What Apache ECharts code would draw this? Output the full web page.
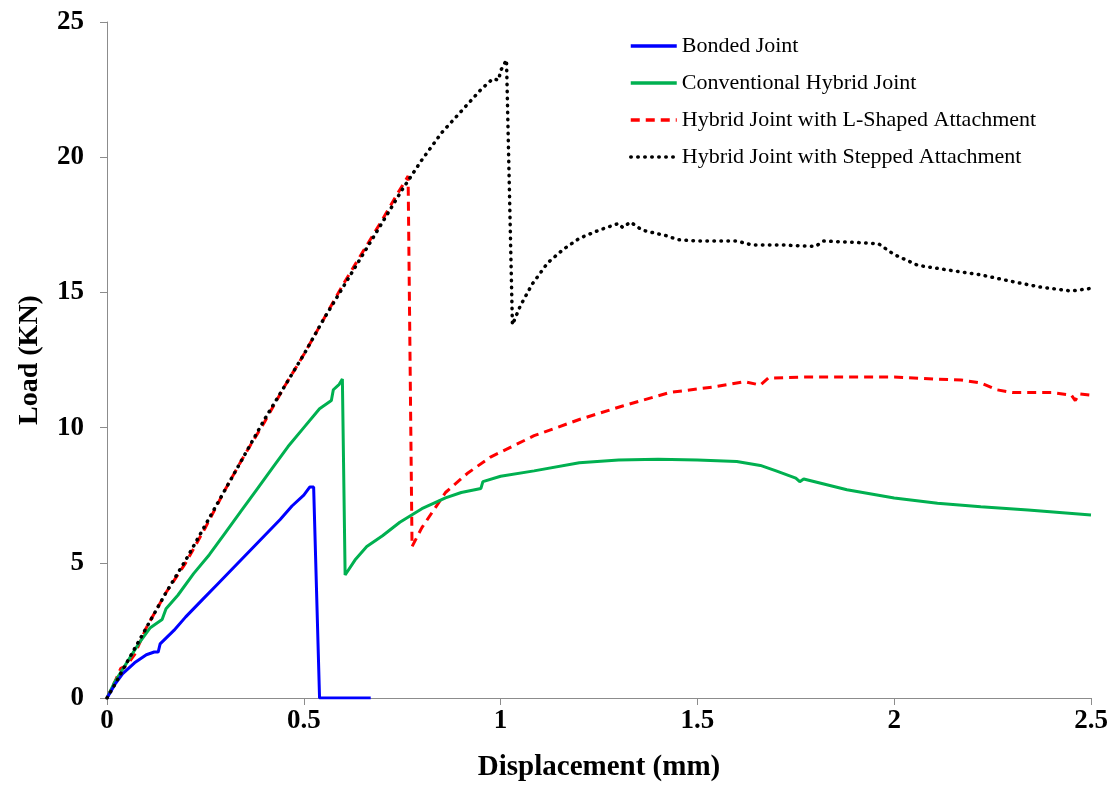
<!DOCTYPE html>
<html>
<head>
<meta charset="utf-8">
<script src="https://cdn.jsdelivr.net/npm/echarts@6/dist/echarts.min.js"></script>
<style>
  html, body { margin: 0; padding: 0; background: #fff; }
  #chart { width: 1116px; height: 805px; }
</style>
</head>
<body>
<div id="chart"></div>
<script>
// series names
const seriesNames = [
  "Bonded Joint",
  "Conventional Hybrid Joint",
  "Hybrid Joint with L-Shaped Attachment",
  "Hybrid Joint with Stepped Attachment"
];

// [displacement (mm), load (KN)]
const bonded = [
  [0, 0], [0.02, 0.5], [0.04, 0.9], [0.07, 1.3], [0.1, 1.6], [0.12, 1.7], [0.13, 1.7],
  [0.135, 2.0], [0.17, 2.5], [0.2, 3.0], [0.24, 3.6], [0.28, 4.2], [0.32, 4.8],
  [0.36, 5.4], [0.4, 6.0], [0.44, 6.6], [0.47, 7.1], [0.5, 7.5], [0.515, 7.8],
  [0.525, 7.8], [0.54, 0], [0.67, 0]
];

const conventional = [
  [0, 0], [0.02, 0.6], [0.05, 1.3], [0.08, 2.0], [0.11, 2.6], [0.14, 2.9], [0.15, 3.3],
  [0.18, 3.8], [0.22, 4.6], [0.26, 5.3], [0.3, 6.1], [0.34, 6.9], [0.38, 7.7],
  [0.42, 8.5], [0.46, 9.3], [0.5, 10.0], [0.54, 10.7], [0.56, 10.9], [0.57, 11.0],
  [0.575, 11.4], [0.59, 11.6], [0.598, 11.8], [0.605, 4.55], [0.63, 5.1], [0.66, 5.6],
  [0.7, 6.0], [0.744, 6.5], [0.8, 7.0], [0.86, 7.4], [0.9, 7.6], [0.95, 7.75],
  [0.955, 8.0], [1.0, 8.2], [1.085, 8.4], [1.2, 8.7], [1.3, 8.8], [1.4, 8.83],
  [1.5, 8.8], [1.6, 8.75], [1.66, 8.6], [1.7, 8.4], [1.75, 8.13], [1.76, 8.0],
  [1.77, 8.1], [1.88, 7.7], [2.0, 7.4], [2.11, 7.2], [2.22, 7.07], [2.34, 6.95],
  [2.5, 6.77]
];

const lShaped = [
  [0, 0], [0.02, 0.6], [0.035, 1.1], [0.05, 1.2], [0.07, 1.6], [0.1, 2.6], [0.15, 3.9],
  [0.2, 5.0], [0.25, 6.3], [0.3, 7.7], [0.35, 9.0], [0.4, 10.2], [0.45, 11.5],
  [0.5, 12.7], [0.55, 14.0], [0.6, 15.3], [0.65, 16.5], [0.7, 17.7], [0.74, 18.7],
  [0.765, 19.3], [0.775, 5.6], [0.8, 6.3], [0.86, 7.6], [0.915, 8.3], [0.973, 8.9],
  [1.085, 9.7], [1.2, 10.3], [1.31, 10.8], [1.43, 11.3], [1.54, 11.5], [1.62, 11.7],
  [1.66, 11.57], [1.68, 11.83], [1.77, 11.87], [2.0, 11.87], [2.1, 11.8], [2.17, 11.76],
  [2.22, 11.65], [2.26, 11.4], [2.3, 11.3], [2.4, 11.3], [2.45, 11.2], [2.46, 11.0],
  [2.47, 11.25], [2.5, 11.2]
];

const stepped = [
  [0, 0], [0.02, 0.5], [0.05, 1.3], [0.1, 2.6], [0.15, 3.9], [0.2, 5.1], [0.25, 6.4],
  [0.3, 7.7], [0.35, 9.0], [0.4, 10.3], [0.45, 11.5], [0.5, 12.7], [0.55, 14.0],
  [0.6, 15.2], [0.65, 16.4], [0.7, 17.6], [0.75, 18.8], [0.8, 19.9], [0.85, 20.9],
  [0.9, 21.7], [0.95, 22.5], [0.98, 22.9], [0.995, 22.85], [1.0, 23.2], [1.015, 23.6],
  [1.03, 13.8], [1.05, 14.5], [1.08, 15.3], [1.12, 16.1], [1.16, 16.6], [1.2, 17.0],
  [1.25, 17.3], [1.3, 17.55], [1.31, 17.4], [1.33, 17.6], [1.36, 17.3], [1.42, 17.1],
  [1.45, 16.95], [1.5, 16.9], [1.6, 16.9], [1.64, 16.75], [1.72, 16.75], [1.8, 16.7],
  [1.82, 16.9], [1.9, 16.85], [1.96, 16.8], [2.0, 16.4], [2.06, 16.0], [2.15, 15.8],
  [2.22, 15.65], [2.3, 15.4], [2.37, 15.2], [2.45, 15.05], [2.5, 15.15]
];

const xTicks = [0, 0.5, 1, 1.5, 2, 2.5];
const yTicks = [0, 5, 10, 15, 20, 25];

let myChart = echarts.init(document.getElementById("chart"));
const font = "'Liberation Serif', 'Times New Roman', serif";

let option = {
  animation: false,
  grid: {
    left: 107,
    right: 25,
    top: 22,
    bottom: 107,
  },
  legend: {
    orient: "vertical",
    left: 629,
    top: 35,
    padding: 0,
    itemGap: 15,
    itemWidth: 46,
    itemHeight: 14,
    itemStyle: { opacity: 0 },
    lineStyle: { width: 3.5 },
    textStyle: {
      fontFamily: font,
      fontSize: 22,
      color: "#000",
    },
    data: seriesNames,
  },
  xAxis: {
    type: "value",
    min: xTicks[0],
    max: xTicks[xTicks.length - 1],
    interval: 0.5,
    name: "Displacement (mm)",
    nameLocation: "middle",
    nameGap: 55,
    nameTextStyle: {
      fontFamily: font,
      fontSize: 29,
      fontWeight: "bold",
      color: "#000",
    },
    splitLine: { show: false },
    axisLine: { lineStyle: { color: "#8c8c8c", width: 1 } },
    axisTick: { show: true, length: 7, lineStyle: { color: "#8c8c8c" } },
    axisLabel: {
      margin: 10,
      fontFamily: font,
      fontSize: 27,
      fontWeight: "bold",
      color: "#000",
    },
  },
  yAxis: {
    type: "value",
    min: yTicks[0],
    max: yTicks[yTicks.length - 1],
    interval: 5,
    name: "Load (KN)",
    nameLocation: "middle",
    nameGap: 63,
    nameTextStyle: {
      fontFamily: font,
      fontSize: 28,
      fontWeight: "bold",
      color: "#000",
    },
    splitLine: { show: false },
    axisLine: { show: true, lineStyle: { color: "#8c8c8c", width: 1 } },
    axisTick: { show: true, length: 7, lineStyle: { color: "#8c8c8c" } },
    axisLabel: {
      margin: 23,
      fontFamily: font,
      fontSize: 27,
      fontWeight: "bold",
      color: "#000",
    },
  },
  series: [
    {
      name: seriesNames[0],
      type: "line",
      data: bonded,
      showSymbol: false,
      symbol: "none",
      z: 4,
      itemStyle: { color: "#0000ff" },
      lineStyle: { color: "#0000ff", width: 3 },
    },
    {
      name: seriesNames[1],
      type: "line",
      data: conventional,
      showSymbol: false,
      symbol: "none",
      z: 3,
      itemStyle: { color: "#00b050" },
      lineStyle: { color: "#00b050", width: 3 },
    },
    {
      name: seriesNames[2],
      type: "line",
      data: lShaped,
      showSymbol: false,
      symbol: "none",
      z: 2,
      itemStyle: { color: "#ff0000" },
      lineStyle: { color: "#ff0000", width: 3, type: [9, 6] },
    },
    {
      name: seriesNames[3],
      type: "line",
      data: stepped,
      showSymbol: false,
      symbol: "none",
      z: 5,
      itemStyle: { color: "#000" },
      lineStyle: { color: "#000", width: 3.5, type: [0.5, 6.5], cap: "round" },
    },
  ],
};
myChart.setOption(option);
</script>
</body>
</html>
